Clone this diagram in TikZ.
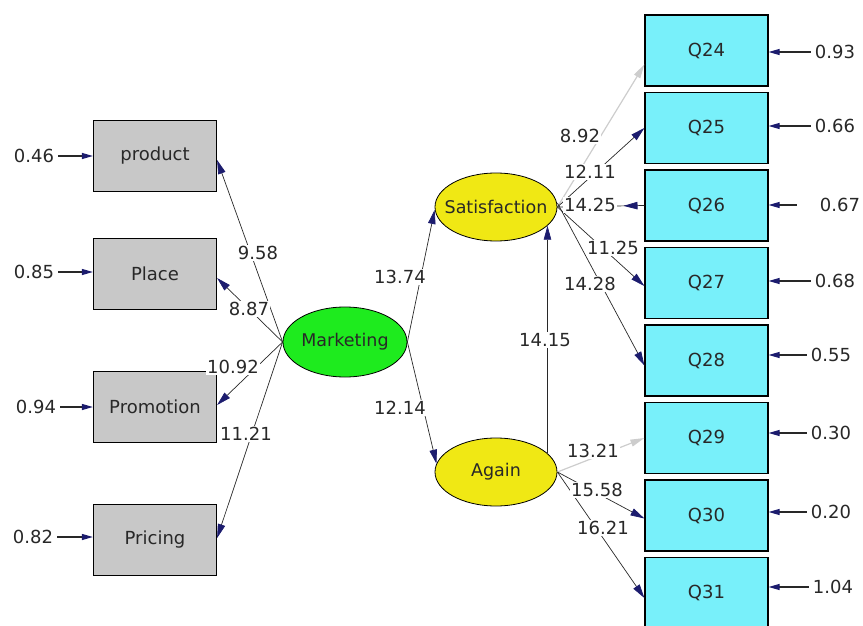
\documentclass[tikz,border=0pt]{standalone}
\usepackage{fontspec}
\setmainfont{DejaVu Sans}
\usetikzlibrary{arrows.meta,shapes.geometric,decorations.markings}
\definecolor{navyhead}{RGB}{28,28,110}
\definecolor{linegray}{RGB}{40,40,40}
\definecolor{boxgray}{RGB}{200,200,200}
\definecolor{qcyan}{RGB}{120,240,250}
\definecolor{mkgreen}{RGB}{30,235,30}
\definecolor{latyellow}{RGB}{240,232,20}
\definecolor{txt}{RGB}{40,40,40}
\definecolor{faint}{RGB}{205,205,205}
\begin{document}
\begin{tikzpicture}[x=1pt,y=-1pt,
  every node/.style={text=txt, font=\fontsize{18}{20}\selectfont},
  obsbox/.style={draw=black, line width=1.2pt, minimum width=123pt, minimum height=71pt, inner sep=0pt},
  leftbox/.style={obsbox, fill=boxgray},
  qbox/.style={obsbox, fill=qcyan},
  latent/.style={ellipse, draw=black, line width=0.8pt, minimum width=124pt, minimum height=68pt, inner sep=0pt, font=\fontsize{17.5}{20}\selectfont},
  load/.style={draw=linegray, line width=0.7pt, -{Triangle[length=14pt,width=7.5pt,color=navyhead]}},
  faintload/.style={draw=faint, line width=1.2pt, -{Triangle[length=14pt,width=7pt,color=faint]}},
  revload/.style={draw=linegray, line width=0.7pt, postaction={decorate, decoration={markings, mark=at position 0.24 with {\arrow[navyhead]{Triangle[length=14pt,width=7.5pt]}}}}},
  errarrow/.style={draw=linegray, line width=1.2pt, shorten <=3pt, -{Triangle[length=11pt,width=6pt,color=navyhead]}},
  tval/.style={fill=white, inner sep=1pt},
  errlbl/.style={inner sep=1pt},
]
\useasboundingbox (0,0) rectangle (863,626);

% left observed variables
\node[leftbox] (prod) at (155,156) {product};
\node[leftbox] (place) at (155,274) {Place};
\node[leftbox] (promo) at (155,407) {Promotion};
\node[leftbox] (price) at (155,540) {Pricing};

\node[errlbl] (e1) at (34,156) {0.46};
\node[errlbl] (e2) at (34,272) {0.85};
\node[errlbl] (e3) at (36,407) {0.94};
\node[errlbl] (e4) at (33,537) {0.82};

% latent variables
\node[latent, fill=mkgreen, minimum height=70pt] (mk) at (345,342) {\makebox[0pt]{Marketing}};
\node[latent, fill=latyellow, minimum width=122pt] (sat) at (496,207) {\makebox[0pt]{Satisfaction}};
\node[latent, fill=latyellow, minimum width=122pt] (again) at (496,472) {\makebox[0pt]{Again}};

% right observed variables
\foreach \q/\yy in {24/50.5,25/128,26/205.5,27/283,28/360.5,29/438,30/515.5,31/593}
  \node[qbox] (Q\q) at (706.5,\yy) {Q\q};

\node[errlbl] (r24) at (835,52) {0.93};
\node[errlbl] (r25) at (835,126) {0.66};
\node[errlbl] (r26) at (840,205) {0.67};
\node[errlbl] (r27) at (835,281) {0.68};
\node[errlbl] (r28) at (831,355) {0.55};
\node[errlbl] (r29) at (831,433) {0.30};
\node[errlbl] (r30) at (831,512) {0.20};
\node[errlbl] (r31) at (833,587) {1.04};

% error arrows
\draw[errarrow] (e1.east) -- (prod.west);
\draw[errarrow] (e2.east) -- (place.west |- e2.east);
\draw[errarrow] (e3.east) -- (promo.west);
\draw[errarrow] (e4.east) -- (price.west |- e4.east);
\foreach \q in {24,25,27,28,29,30,31}
  \draw[errarrow] (r\q.west) -- (Q\q.east |- r\q.west);
\draw[errarrow, shorten <=22pt] (r26.west) -- (Q26.east |- r26.west);

% structural paths
\draw[load] (mk.west) -- ([yshift=-4pt]prod.east);
\draw[load] (mk.west) -- ([yshift=-4pt]place.east);
\draw[load] (mk.west) -- ([yshift=2pt]promo.east);
\draw[load] (mk.west) -- ([yshift=2pt]price.east);
\draw[load] (mk.east) -- ([yshift=-3pt]sat.west);
\draw[load] (mk.east) -- (again.172);
\draw[load] (again.20) -- (again.20 |- sat.-20);

% measurement paths
\draw[faintload] (sat.east) -- ([yshift=-14pt]Q24.west);
\draw[load] (sat.east) -- (Q25.west);
\draw[revload] (Q26.west) -- (sat.east);
\draw[load] (sat.east) -- ([yshift=-3pt]Q27.west);
\draw[load] ([yshift=4pt]sat.east) -- ([yshift=-5pt]Q28.west);
\draw[faintload] (again.east) -- (Q29.west);
\draw[load] (again.east) -- ([yshift=-3pt]Q30.west);
\draw[load] (again.east) -- ([yshift=-5pt]Q31.west);

% t-values
\node[tval] (t1) at (258,253) {9.58};
\node[tval] (t2) at (249,309) {8.87};
\node[tval] (t3) at (233,367) {10.92};
\node[tval] (t4) at (246,434) {11.21};
\node[tval] (t5) at (400,277) {13.74};
\node[tval] (t6) at (400,408) {12.14};
\node[tval] (t7) at (545,340) {14.15};
\node[tval] (t8) at (580,136) {8.92};
\node[tval] (t9) at (590,172) {12.11};
\node[tval] (t10) at (590,205) {14.25};
\node[tval] (t11) at (613,248) {11.25};
\node[tval] (t12) at (590,284) {14.28};
\node[tval] (t13) at (593,451) {13.21};
\node[tval] (t14) at (597,490) {15.58};
\node[tval] (t15) at (603,528) {16.21};
\end{tikzpicture}
\end{document}
